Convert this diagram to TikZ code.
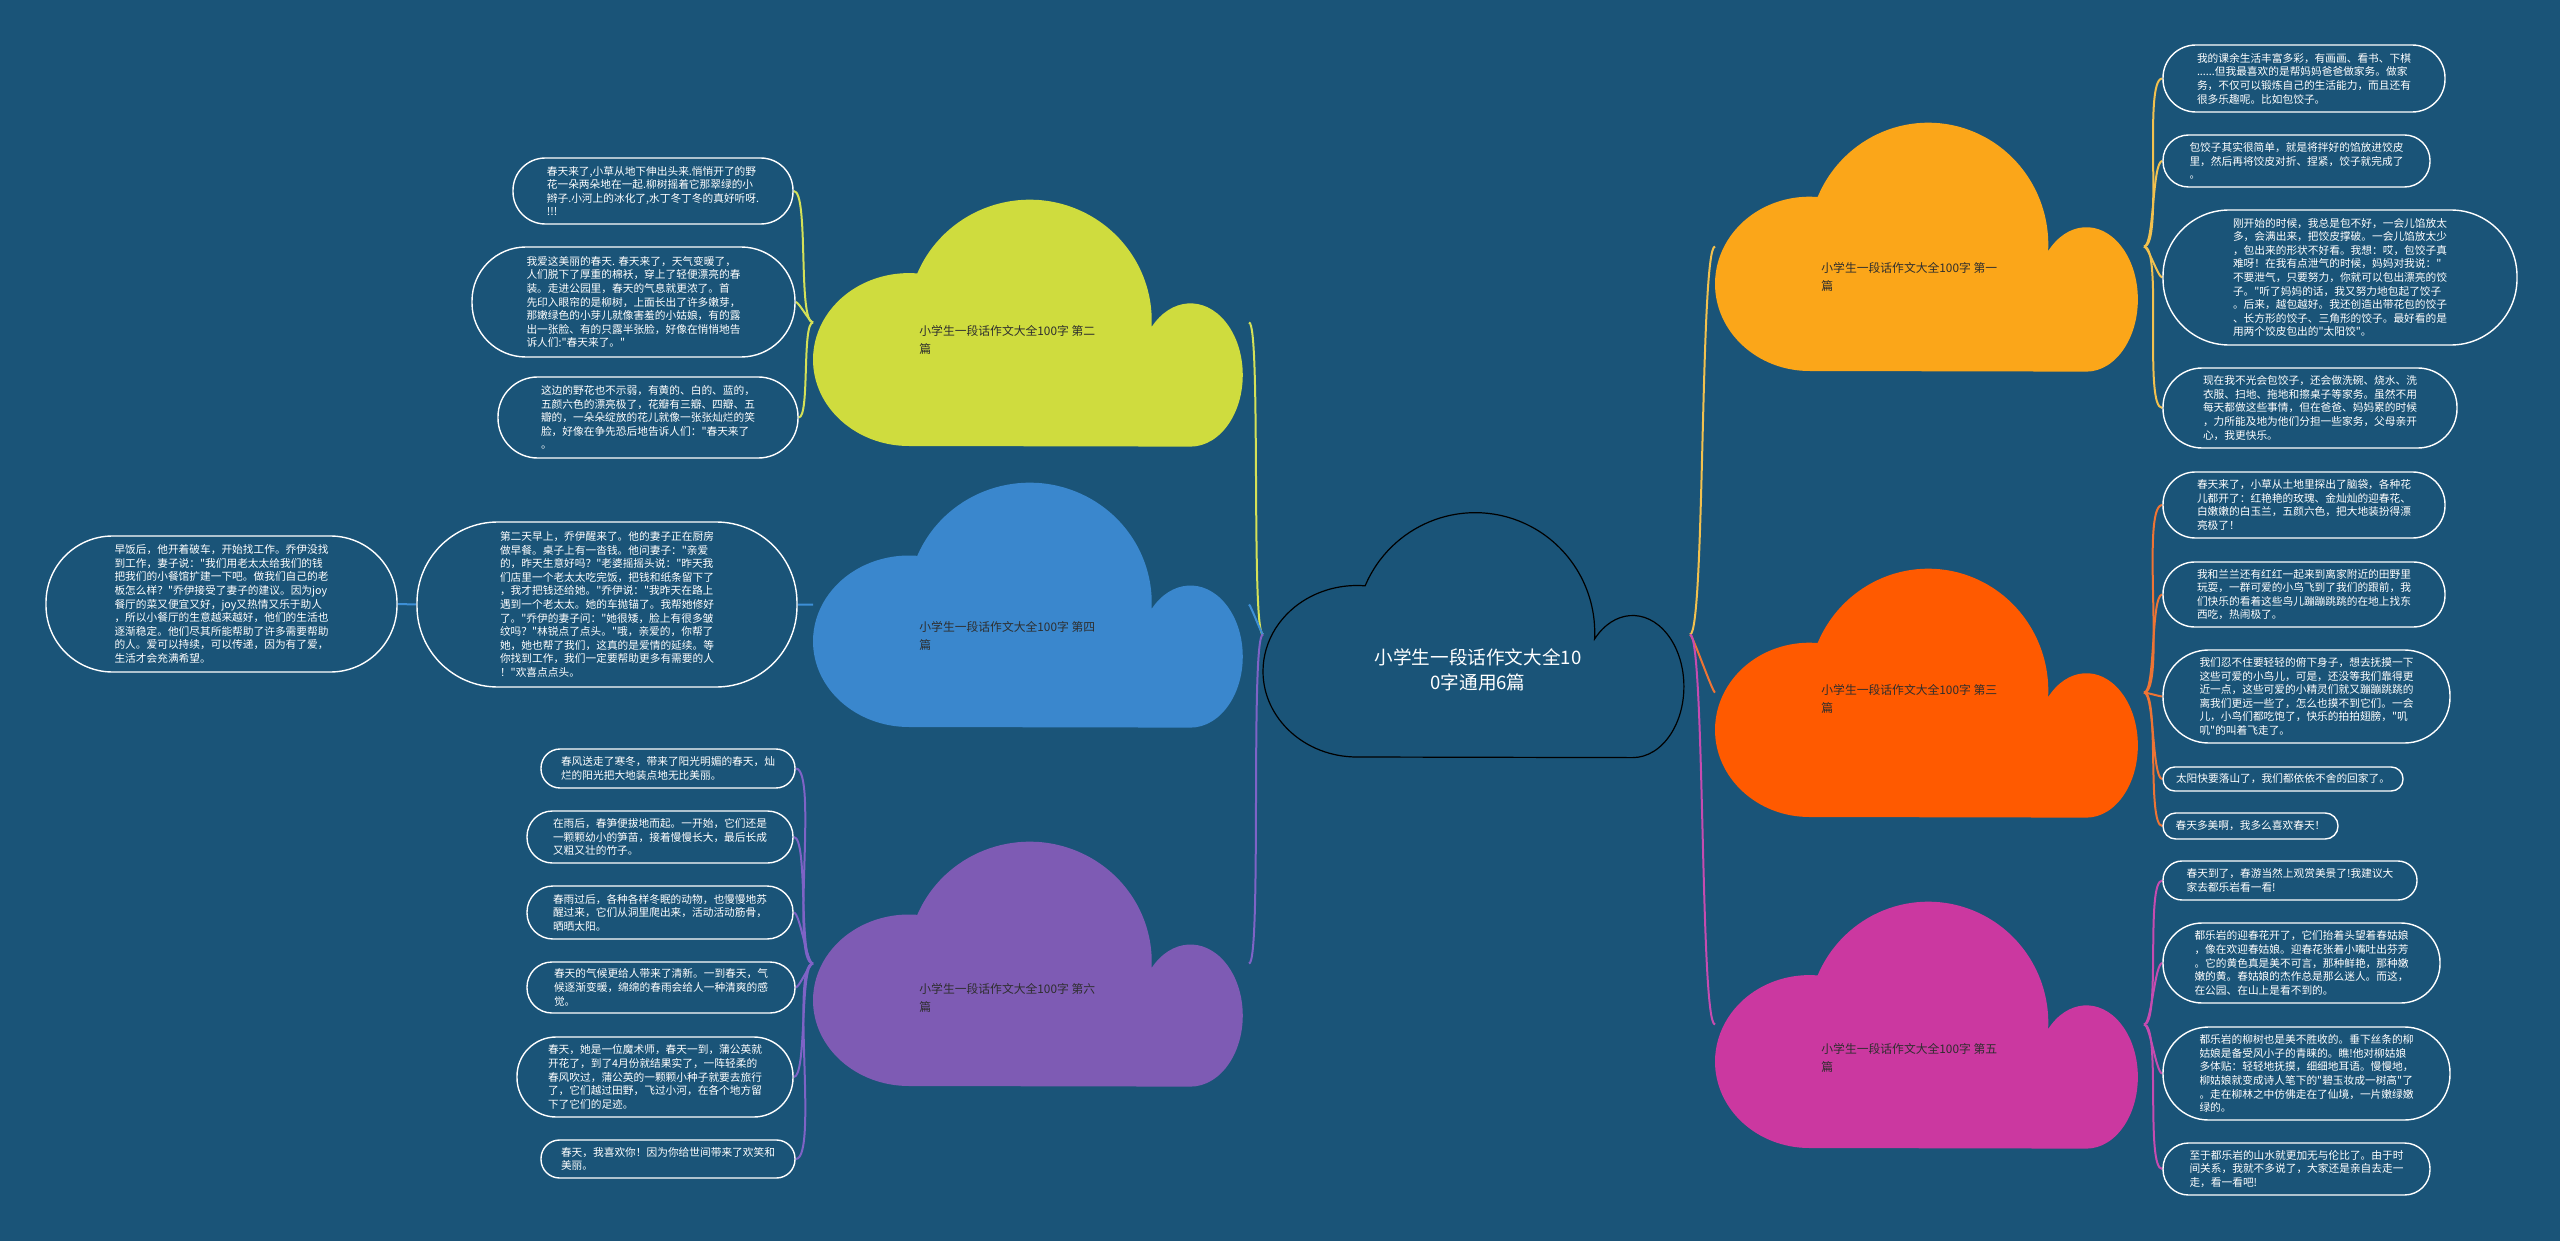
\documentclass[tikz,border=0pt]{standalone}
\usepackage{fontspec}
\newfontfamily\cjk{Noto Sans CJK SC}
\definecolor{bg}{HTML}{1A5478}
\definecolor{limec}{HTML}{CFDC3E}
\definecolor{limel}{HTML}{D4E157}
\definecolor{bluec}{HTML}{3A87CD}
\definecolor{bluel}{HTML}{3D8FD6}
\definecolor{purc}{HTML}{7E5BB4}
\definecolor{purl}{HTML}{7E63C6}
\definecolor{orac}{HTML}{FBA619}
\definecolor{oral}{HTML}{F2C14E}
\definecolor{redc}{HTML}{FF5A00}
\definecolor{redl}{HTML}{EE7434}
\definecolor{magc}{HTML}{CB38A0}
\definecolor{magl}{HTML}{C64BB0}
\definecolor{labtext}{HTML}{2E2E2E}
\pgfdeclarelayer{back}
\pgfdeclarelayer{lines}
\pgfsetlayers{back,lines,main}
\tikzset{
  leaf/.style={draw=white,line width=0.7pt,fill=bg,text=white,align=left,inner sep=0pt,
    font=\cjk\fontsize{5.35pt}{6.8pt}\selectfont},
  cloudbox/.style={inner sep=0pt,outer sep=0pt},
  conn/.style={line width=1pt},
  clabel/.style={anchor=west,align=left,inner sep=0pt,text=labtext,
    font=\cjk\fontsize{5.9pt}{9pt}\selectfont},
  rootlabel/.style={align=center,inner sep=0pt,text=white,
    font=\cjk\fontsize{9.3pt}{12.5pt}\selectfont},
}
% name x0 y0 w h style
\newcommand\mmcloud[6]{%
  \begin{scope}[shift={(#2,#3)},xscale=#4/100,yscale=#5/100]
    \path[#6] (22,100)
      arc[start angle=90,end angle=275,x radius=22,y radius=35]
      arc[start angle=-157,end angle=3,x radius=28,y radius=49]
      arc[start angle=-138,end angle=90,x radius=12,y radius=29]
      -- cycle;
    \node[cloudbox,minimum width={#4*0.5pt},minimum height={#5*0.5pt}] (#1) at (50,50) {};
  \end{scope}}
% name x1 y1 x2 y2 text
\newcommand\mmleaf[6]{%
  \node[leaf,minimum width={(#4-#2)*0.5pt},minimum height={(#5-#3)*0.5pt},
        rounded corners={(#5-#3)*0.245pt}] (#1) at ({(#2+#4)/2},{(#3+#5)/2}) {#6};}
\begin{document}
\begin{tikzpicture}[x=0.5pt,y=-0.5pt]
\begin{pgfonlayer}{back}
  \fill[bg] (0,0) rectangle (2560,1241);
\end{pgfonlayer}

% clouds
\mmcloud{root}{1263}{512}{427}{245}{fill=bg,draw=black,line width=0.6pt}
\mmcloud{c2}{813}{199}{436}{247}{fill=limec}
\mmcloud{c4}{813}{482}{436}{245}{fill=bluec}
\mmcloud{c6}{813}{841}{436}{245}{fill=purc}
\mmcloud{c1}{1715}{122}{429}{249}{fill=orac}
\mmcloud{c3}{1715}{568}{429}{249}{fill=redc}
\mmcloud{c5}{1715}{901}{429}{247}{fill=magc}

\node[rootlabel] (rt) at (1478,670) {小学生一段话作文大全10\\0字通用6篇};
\node[clabel] (t2) at (919,340) {小学生一段话作文大全100字 第二\\篇};
\node[clabel] (t4) at (919,636) {小学生一段话作文大全100字 第四\\篇};
\node[clabel] (t6) at (919,998) {小学生一段话作文大全100字 第六\\篇};
\node[clabel] (t1) at (1821,277) {小学生一段话作文大全100字 第一\\篇};
\node[clabel] (t3) at (1821,699) {小学生一段话作文大全100字 第三\\篇};
\node[clabel] (t5) at (1821,1058) {小学生一段话作文大全100字 第五\\篇};

% leaves: 第二篇
\mmleaf{Y1}{513}{158}{793}{224}{春天来了,小草从地下伸出头来.悄悄开了的野\\花一朵两朵地在一起.柳树摇着它那翠绿的小\\辫子.小河上的冰化了,水丁冬丁冬的真好听呀.\\!!!}
\mmleaf{Y2}{472}{247}{795}{357}{我爱这美丽的春天. 春天来了，天气变暖了，\\人们脱下了厚重的棉袄，穿上了轻便漂亮的春\\装。走进公园里，春天的气息就更浓了。首\\先印入眼帘的是柳树，上面长出了许多嫩芽，\\那嫩绿色的小芽儿就像害羞的小姑娘，有的露\\出一张脸、有的只露半张脸，好像在悄悄地告\\诉人们:"春天来了。"}
\mmleaf{Y3}{498}{377}{798}{458}{这边的野花也不示弱，有黄的、白的、蓝的，\\五颜六色的漂亮极了，花瓣有三瓣、四瓣、五\\瓣的，一朵朵绽放的花儿就像一张张灿烂的笑\\脸，好像在争先恐后地告诉人们："春天来了\\。}
% 第四篇
\mmleaf{B1}{417}{522}{797}{687}{第二天早上，乔伊醒来了。他的妻子正在厨房\\做早餐。桌子上有一沓钱。他问妻子："亲爱\\的，昨天生意好吗？"老婆摇摇头说："昨天我\\们店里一个老太太吃完饭，把钱和纸条留下了\\，我才把钱还给她。"乔伊说："我昨天在路上\\遇到一个老太太。她的车抛锚了。我帮她修好\\了。"乔伊的妻子问："她很矮，脸上有很多皱\\纹吗？"林锐点了点头。"哦，亲爱的，你帮了\\她，她也帮了我们，这真的是爱情的延续。等\\你找到工作，我们一定要帮助更多有需要的人\\！"欢喜点点头。}
\mmleaf{B2}{46}{536}{397}{672}{早饭后，他开着破车，开始找工作。乔伊没找\\到工作，妻子说："我们用老太太给我们的钱\\把我们的小餐馆扩建一下吧。做我们自己的老\\板怎么样？"乔伊接受了妻子的建议。因为joy\\餐厅的菜又便宜又好，joy又热情又乐于助人\\，所以小餐厅的生意越来越好，他们的生活也\\逐渐稳定。他们尽其所能帮助了许多需要帮助\\的人。爱可以持续，可以传递，因为有了爱，\\生活才会充满希望。}
% 第六篇
\mmleaf{P1}{541}{749}{795}{788}{春风送走了寒冬，带来了阳光明媚的春天，灿\\烂的阳光把大地装点地无比美丽。}
\mmleaf{P2}{527}{811}{793}{863}{在雨后，春笋便拔地而起。一开始，它们还是\\一颗颗幼小的笋苗，接着慢慢长大，最后长成\\又粗又壮的竹子。}
\mmleaf{P3}{527}{886}{793}{939}{春雨过后，各种各样冬眠的动物，也慢慢地苏\\醒过来，它们从洞里爬出来，活动活动筋骨，\\晒晒太阳。}
\mmleaf{P4}{527}{962}{795}{1013}{春天的气候更给人带来了清新。一到春天，气\\候逐渐变暖，绵绵的春雨会给人一种清爽的感\\觉。}
\mmleaf{P5}{517}{1037}{793}{1117}{春天，她是一位魔术师，春天一到，蒲公英就\\开花了，到了4月份就结果实了，一阵轻柔的\\春风吹过，蒲公英的一颗颗小种子就要去旅行\\了，它们越过田野，飞过小河，在各个地方留\\下了它们的足迹。}
\mmleaf{P6}{541}{1140}{795}{1178}{春天，我喜欢你！因为你给世间带来了欢笑和\\美丽。}
% 第一篇
\mmleaf{O1}{2163}{45}{2445}{112}{我的课余生活丰富多彩，有画画、看书、下棋\\......但我最喜欢的是帮妈妈爸爸做家务。做家\\务，不仅可以锻炼自己的生活能力，而且还有\\很多乐趣呢。比如包饺子。}
\mmleaf{O2}{2163}{135}{2430}{187}{包饺子其实很简单，就是将拌好的馅放进饺皮\\里，然后再将饺皮对折、捏紧，饺子就完成了\\。}
\mmleaf{O3}{2163}{210}{2517}{345}{刚开始的时候，我总是包不好，一会儿馅放太\\多，会满出来，把饺皮撑破。一会儿馅放太少\\，包出来的形状不好看。我想：哎，包饺子真\\难呀！在我有点泄气的时候，妈妈对我说："\\不要泄气，只要努力，你就可以包出漂亮的饺\\子。"听了妈妈的话，我又努力地包起了饺子\\。后来，越包越好。我还创造出带花包的饺子\\、长方形的饺子、三角形的饺子。最好看的是\\用两个饺皮包出的"太阳饺"。}
\mmleaf{O4}{2163}{368}{2457}{448}{现在我不光会包饺子，还会做洗碗、烧水、洗\\衣服、扫地、拖地和擦桌子等家务。虽然不用\\每天都做这些事情，但在爸爸、妈妈累的时候\\，力所能及地为他们分担一些家务，父母亲开\\心，我更快乐。}
% 第三篇
\mmleaf{R1}{2163}{472}{2445}{538}{春天来了，小草从土地里探出了脑袋，各种花\\儿都开了：红艳艳的玫瑰、金灿灿的迎春花、\\白嫩嫩的白玉兰，五颜六色，把大地装扮得漂\\亮极了！}
\mmleaf{R2}{2163}{562}{2445}{627}{我和兰兰还有红红一起来到离家附近的田野里\\玩耍，一群可爱的小鸟飞到了我们的跟前，我\\们快乐的看着这些鸟儿蹦蹦跳跳的在地上找东\\西吃，热闹极了。}
\mmleaf{R3}{2163}{650}{2450}{743}{我们忍不住要轻轻的俯下身子，想去抚摸一下\\这些可爱的小鸟儿，可是，还没等我们靠得更\\近一点，这些可爱的小精灵们就又蹦蹦跳跳的\\离我们更远一些了，怎么也摸不到它们。一会\\儿，小鸟们都吃饱了，快乐的拍拍翅膀，"叽\\叽"的叫着飞走了。}
\mmleaf{R4}{2163}{767}{2403}{791}{太阳快要落山了，我们都依依不舍的回家了。}
\mmleaf{R5}{2163}{813}{2338}{839}{春天多美啊，我多么喜欢春天！}
% 第五篇
\mmleaf{M1}{2163}{861}{2417}{900}{春天到了，春游当然上观赏美景了!我建议大\\家去都乐岩看一看!}
\mmleaf{M2}{2163}{923}{2440}{1003}{都乐岩的迎春花开了，它们抬着头望着春姑娘\\，像在欢迎春姑娘。迎春花张着小嘴吐出芬芳\\。它的黄色真是美不可言，那种鲜艳，那种嫩\\嫩的黄。春姑娘的杰作总是那么迷人。而这，\\在公园、在山上是看不到的。}
\mmleaf{M3}{2163}{1027}{2450}{1120}{都乐岩的柳树也是美不胜收的。垂下丝条的柳\\姑娘是备受风小子的青睐的。瞧!他对柳姑娘\\多体贴：轻轻地抚摸，细细地耳语。慢慢地，\\柳姑娘就变成诗人笔下的"碧玉妆成一树高"了\\。走在柳林之中仿佛走在了仙境，一片嫩绿嫩\\绿的。}
\mmleaf{M4}{2163}{1143}{2430}{1195}{至于都乐岩的山水就更加无与伦比了。由于时\\间关系，我就不多说了，大家还是亲自去走一\\走，看一看吧!}

\begin{pgfonlayer}{lines}
  % root to branches
  \draw[conn,limel] (root.west) to[out=180,in=0,looseness=0.1] (c2.east);
  \draw[conn,bluel] (root.west) to[out=180,in=0,looseness=0.1] (c4.east);
  \draw[conn,purl]  (root.west) to[out=180,in=0,looseness=0.1] (c6.east);
  \draw[conn,oral]  (root.east) to[out=0,in=180,looseness=0.1] (c1.west);
  \draw[conn,redl]  (root.east) to[out=0,in=180,looseness=0.1] (c3.west);
  \draw[conn,magl]  (root.east) to[out=0,in=180,looseness=0.1] (c5.west);
  % branches to leaves
  \foreach \l in {Y1,Y2,Y3}
    \draw[conn,limel] (c2.west) to[out=180,in=0,looseness=0.3] (\l.east);
  \draw[conn,bluel] (c4.west) to[out=180,in=0,looseness=0.3] (B1.east);
  \draw[conn,bluel] (B1.west) to[out=180,in=0,looseness=0.3] (B2.east);
  \foreach \l in {P1,P2,P3,P4,P5,P6}
    \draw[conn,purl] (c6.west) to[out=180,in=0,looseness=0.3] (\l.east);
  \foreach \l in {O1,O2,O3,O4}
    \draw[conn,oral] (c1.east) to[out=0,in=180,looseness=0.3] (\l.west);
  \foreach \l in {R1,R2,R3,R4,R5}
    \draw[conn,redl] (c3.east) to[out=0,in=180,looseness=0.3] (\l.west);
  \foreach \l in {M1,M2,M3,M4}
    \draw[conn,magl] (c5.east) to[out=0,in=180,looseness=0.3] (\l.west);
\end{pgfonlayer}
\end{tikzpicture}
\end{document}
